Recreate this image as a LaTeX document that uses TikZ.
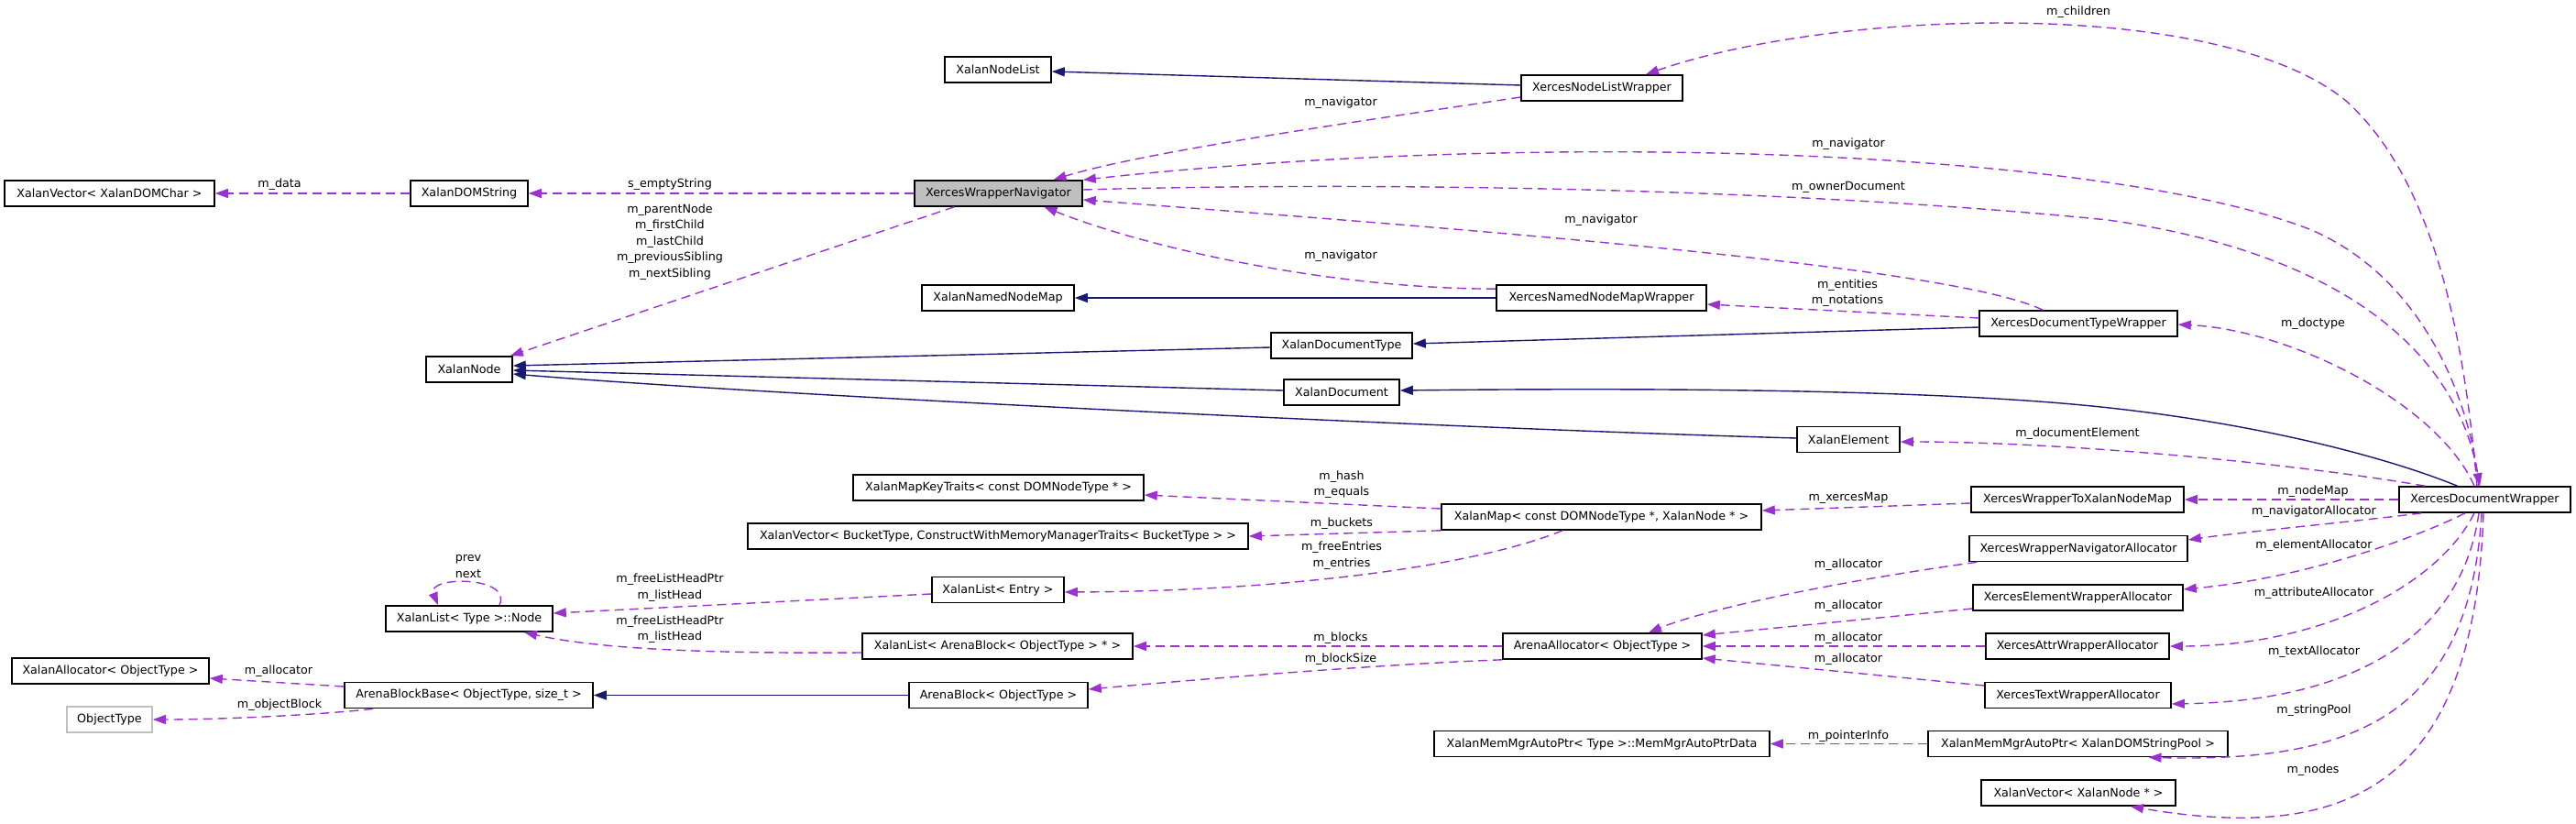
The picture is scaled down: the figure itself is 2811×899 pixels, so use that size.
\documentclass[tikz,border=0pt]{standalone}
\usepackage{fontspec}
\setmainfont{DejaVu Sans}
\usetikzlibrary{arrows.meta}
\definecolor{edgeblue}{HTML}{191970}
\definecolor{orchid}{HTML}{9A32CD}
\definecolor{boxgray}{HTML}{BFBFBF}
\begin{document}
\begin{tikzpicture}[x=1pt,y=-1pt,
  cls/.style={draw=black, line width=1.6pt, minimum height=28pt, inner sep=0pt, font=\fontsize{12.7}{15}\selectfont, fill=white},
  root/.style={cls, fill=boxgray},
  ext/.style={cls, draw=boxgray},
  lbl/.style={font=\fontsize{12.7}{17.5}\selectfont, inner sep=0pt, align=center},
  inh/.style={draw=edgeblue, line width=1.4pt, -{Triangle[length=14pt,width=10pt]}},
  use/.style={draw=orchid, line width=1.4pt, dash pattern=on 10pt off 6pt, -{Triangle[length=14pt,width=10pt]}},
]
\fill[white] (0,0) rectangle (2811,899);
\useasboundingbox (0,0) rectangle (2811,899);

% classes
\node[cls, minimum width=229pt] (vecChar) at (119.5,211) {XalanVector< XalanDOMChar >};
\node[cls, minimum width=128pt] (domStr) at (512,211) {XalanDOMString};
\node[root, minimum width=183pt] (xwn) at (1089.5,211) {XercesWrapperNavigator};
\node[cls, minimum width=94pt] (xnode) at (512,403) {XalanNode};
\node[cls, minimum width=116pt] (nodeList) at (1089,76) {XalanNodeList};
\node[cls, minimum width=176pt] (xnlw) at (1748,96) {XercesNodeListWrapper};
\node[cls, minimum width=166pt] (nnm) at (1089,325) {XalanNamedNodeMap};
\node[cls, minimum width=229pt] (xnnmw) at (1747.5,325) {XercesNamedNodeMapWrapper};
\node[cls, minimum width=154pt] (docType) at (1464,377) {XalanDocumentType};
\node[cls, minimum width=126pt] (doc) at (1464,428) {XalanDocument};
\node[cls, minimum width=216pt] (xdtw) at (2268,353) {XercesDocumentTypeWrapper};
\node[cls, minimum width=112pt] (elem) at (2017,479.5) {XalanElement};
\node[cls, minimum width=187pt] (xdw) at (2711.5,545) {XercesDocumentWrapper};
\node[cls, minimum width=232pt] (w2x) at (2267,545) {XercesWrapperToXalanNodeMap};
\node[cls, minimum width=238pt] (xwna) at (2268,598.5) {XercesWrapperNavigatorAllocator};
\node[cls, minimum width=229pt] (xewa) at (2267.5,652) {XercesElementWrapperAllocator};
\node[cls, minimum width=200pt] (xawa) at (2267,705) {XercesAttrWrapperAllocator};
\node[cls, minimum width=203pt] (xtwa) at (2267.5,758.5) {XercesTextWrapperAllocator};
\node[cls, minimum width=327pt] (autoPool) at (2267.5,811.5) {XalanMemMgrAutoPtr< XalanDOMStringPool >};
\node[cls, minimum width=212pt] (vecNode) at (2268,865) {XalanVector< XalanNode * >};
\node[cls, minimum width=317pt] (mapKT) at (1089.5,532) {XalanMapKeyTraits< const DOMNodeType * >};
\node[cls, minimum width=546pt] (vecBucket) at (1089,585) {XalanVector< BucketType, ConstructWithMemoryManagerTraits< BucketType > >};
\node[cls, minimum width=349pt] (xmap) at (1747.5,564) {XalanMap< const DOMNodeType *, XalanNode * >};
\node[cls, minimum width=144pt] (listEntry) at (1089,643.5) {XalanList< Entry >};
\node[cls, minimum width=182pt] (lnode) at (512,675) {XalanList< Type >::Node};
\node[cls, minimum width=295pt] (listBlock) at (1088.5,705) {XalanList< ArenaBlock< ObjectType > * >};
\node[cls, minimum width=217pt] (arenaAlloc) at (1748.5,705) {ArenaAllocator< ObjectType >};
\node[cls, minimum width=215pt] (xalloc) at (120.5,732) {XalanAllocator< ObjectType >};
\node[ext, minimum width=93pt] (objType) at (119.5,785) {ObjectType};
\node[cls, minimum width=271pt] (abb) at (511.5,758.5) {ArenaBlockBase< ObjectType, size\_t >};
\node[cls, minimum width=195pt] (ablock) at (1089.5,758.5) {ArenaBlock< ObjectType >};
\node[cls, minimum width=366pt] (mmData) at (1748,811.5) {XalanMemMgrAutoPtr< Type >::MemMgrAutoPtrData};

% inheritance
\draw[inh] ([yshift=3pt]xnlw.west) -- ([yshift=-2pt]nodeList.east);
\draw[inh] (xnnmw.west) -- (nnm.east);
\draw[inh] ([yshift=-4pt]xdtw.west) -- ([yshift=2pt]docType.east);
\draw[inh] ([yshift=-2pt]docType.west) -- ([yshift=4pt]xnode.east);
\draw[inh] ([yshift=2pt]doc.west) -- ([yshift=-1pt]xnode.east);
\draw[inh] ([yshift=1.5pt]elem.west) .. controls (1600,468) and (850,432) .. ([yshift=-5pt]xnode.east);
\draw[inh] ([xshift=-30pt]xdw.north) .. controls (2590,493) and (2430,455) .. (2250,440) .. controls (2070,425) and (1800,423) .. ([yshift=2pt]doc.east);
\draw[inh] (ablock.west) -- (abb.east);

% usage
\draw[use] (domStr.west) -- (vecChar.east);
\draw[use] (xwn.west) -- (domStr.east);
\draw[use] ([xshift=44pt]xwn.south west) -- ([xshift=-3pt]xnode.north east);
\draw[use] ([yshift=-10pt]xnlw.west) .. controls (1500,130) and (1250,165) .. ([xshift=60pt]xwn.north);
\draw[use] ([xshift=-6.5pt]xdw.north) .. controls (2695,430) and (2640,300) .. (2520,250) .. controls (2300,165) and (1700,140) .. (xwn.north east);
\draw[use] ([yshift=4pt]xwn.east) .. controls (1500,198) and (1950,205) .. (2300,240) .. controls (2550,275) and (2680,380) .. ([xshift=-5.5pt]xdw.north);
\draw[use] ([xshift=-39pt]xdtw.north) .. controls (2130,290) and (1600,250) .. ([yshift=-7pt]xwn.east);
\draw[use] ([yshift=-5pt]xnnmw.north west) .. controls (1450,315) and (1250,270) .. ([xshift=50pt]xwn.south);
\draw[use] ([xshift=-8.5pt]xdw.north) .. controls (2690,380) and (2660,200) .. (2560,110) .. controls (2420,-5) and (2000,10) .. ([xshift=48pt]xnlw.north);
\draw[use] ([yshift=6pt]xdtw.west) -- ([yshift=-7pt]xnnmw.east);
\draw[use] ([xshift=-11.5pt]xdw.north) .. controls (2660,440) and (2500,360) .. ([yshift=-1pt]xdtw.east);
\draw[use] ([xshift=29pt]xdw.north west) .. controls (2500,505) and (2250,482) .. ([yshift=-2.5pt]elem.east);
\draw[use] (xdw.west) -- (w2x.east);
\draw[use] ([xshift=25pt]xdw.south west) .. controls (2580,568) and (2450,580) .. ([yshift=9.5pt]xwna.east);
\draw[use] ([xshift=-21.5pt]xdw.south) .. controls (2640,585) and (2520,630) .. ([yshift=9pt]xewa.east);
\draw[use] ([xshift=-11.5pt]xdw.south) .. controls (2660,640) and (2530,705) .. (xawa.east);
\draw[use] ([xshift=-6.5pt]xdw.south) .. controls (2685,700) and (2560,765) .. ([yshift=-9.5pt]xtwa.east);
\draw[use] ([xshift=-3.5pt]xdw.south) .. controls (2695,780) and (2570,832) .. ([xshift=77pt]autoPool.south);
\draw[use] ([xshift=-1.5pt]xdw.south) .. controls (2700,860) and (2560,920) .. ([xshift=57pt]vecNode.south);
\draw[use] ([yshift=-4pt]w2x.west) -- ([yshift=7pt]xmap.east);
\draw[use] ([xshift=9pt]xwna.south west) .. controls (2000,635) and (1860,665) .. ([xshift=50.5pt]arenaAlloc.north);
\draw[use] ([yshift=-12pt]xewa.west) -- ([yshift=12pt]arenaAlloc.east);
\draw[use] (xawa.west) -- (arenaAlloc.east);
\draw[use] ([yshift=10.5pt]xtwa.west) -- ([yshift=-13pt]arenaAlloc.east);
\draw[use] (autoPool.west) -- (mmData.east);
\draw[use] ([yshift=9pt]xmap.west) -- ([yshift=-8pt]mapKT.east);
\draw[use] (xmap.south west) -- (vecBucket.east);
\draw[use] ([xshift=-42.5pt]xmap.south) .. controls (1610,618) and (1400,645) .. ([yshift=-2.5pt]listEntry.east);
\draw[use] ([yshift=-4.5pt]listEntry.west) -- ([yshift=6pt]lnode.east);
\draw[use] ([yshift=-7pt]listBlock.west) .. controls (800,713) and (660,710) .. ([xshift=60pt]lnode.south);
\draw[use] ([xshift=33pt]lnode.north) .. controls (560,628) and (465,628) .. ([xshift=-34pt]lnode.north);
\draw[use] (arenaAlloc.west) -- (listBlock.east);
\draw[use] (arenaAlloc.south west) .. controls (1500,725) and (1300,742) .. ([yshift=6.5pt]ablock.east);
\draw[use] ([yshift=9.5pt]abb.west) -- ([yshift=-8pt]xalloc.east);
\draw[use] ([xshift=32pt]abb.south west) .. controls (360,779) and (250,785) .. (objType.east);

% labels
\node[lbl] (l1) at (305,201) {m\_data};
\node[lbl] (l2) at (731,201) {s\_emptyString};
\node[lbl] (l3) at (731,264) {m\_parentNode\\m\_firstChild\\m\_lastChild\\m\_previousSibling\\m\_nextSibling};
\node[lbl] (l4) at (1463,112) {m\_navigator};
\node[lbl] (l5) at (1747,240) {m\_navigator};
\node[lbl] (l6) at (1463,279) {m\_navigator};
\node[lbl] (l7) at (2268,13) {m\_children};
\node[lbl] (l8) at (2017,157) {m\_navigator};
\node[lbl] (l9) at (2017,204) {m\_ownerDocument};
\node[lbl] (l10) at (2016,319.5) {m\_entities\\m\_notations};
\node[lbl] (l11) at (2524,353) {m\_doctype};
\node[lbl] (l12) at (2267,473) {m\_documentElement};
\node[lbl] (l13) at (2524,536) {m\_nodeMap};
\node[lbl] (l14) at (2017,543) {m\_xercesMap};
\node[lbl] (l15) at (2525,558) {m\_navigatorAllocator};
\node[lbl] (l16) at (2525,595) {m\_elementAllocator};
\node[lbl] (l17) at (2017,616) {m\_allocator};
\node[lbl] (l18) at (2525,647) {m\_attributeAllocator};
\node[lbl] (l19) at (2017,661) {m\_allocator};
\node[lbl] (l20) at (2017,696) {m\_allocator};
\node[lbl] (l21) at (2525,711) {m\_textAllocator};
\node[lbl] (l22) at (2017,719) {m\_allocator};
\node[lbl] (l23) at (2525,775) {m\_stringPool};
\node[lbl] (l24) at (2017,803) {m\_pointerInfo};
\node[lbl] (l25) at (2524,840) {m\_nodes};
\node[lbl] (l26) at (1464,528.5) {m\_hash\\m\_equals};
\node[lbl] (l27) at (1464,571) {m\_buckets};
\node[lbl] (l28) at (1464,606) {m\_freeEntries\\m\_entries};
\node[lbl] (l29) at (1463,696) {m\_blocks};
\node[lbl] (l30) at (1463,719) {m\_blockSize};
\node[lbl] (l31) at (511,618) {prev\\next};
\node[lbl] (l32) at (731,641) {m\_freeListHeadPtr\\m\_listHead};
\node[lbl] (l33) at (731,686.5) {m\_freeListHeadPtr\\m\_listHead};
\node[lbl] (l34) at (304,732) {m\_allocator};
\node[lbl] (l35) at (305,769) {m\_objectBlock};
\end{tikzpicture}
\end{document}
